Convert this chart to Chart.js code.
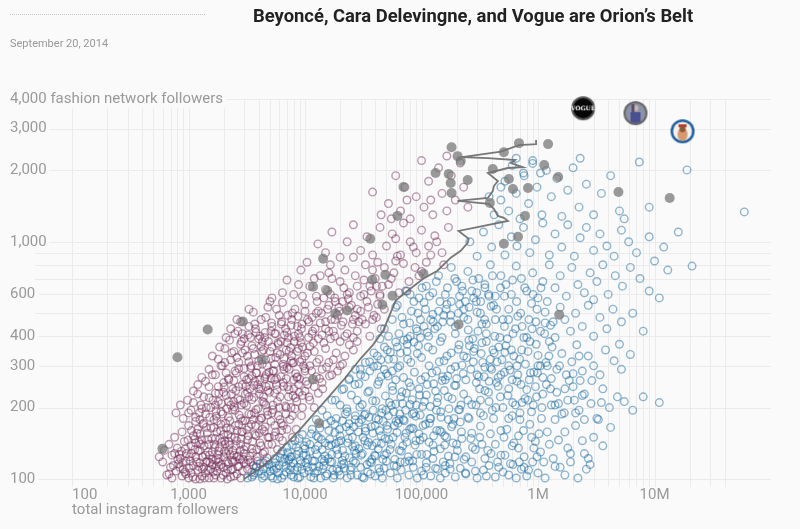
<!DOCTYPE html>
<html>
<head>
<meta charset="utf-8">
<title>Orion's Belt</title>
<script src="https://cdn.jsdelivr.net/npm/chart.js@4.4.1/dist/chart.umd.min.js"></script>
<style>
  body { margin: 0; background: #fafafa; font-family: Roboto, "Noto Sans", sans-serif; }
  #wrap { position: relative; width: 800px; height: 529px; overflow: hidden; }
  canvas { position: absolute; left: 0; top: 0; }
  #dots { position: absolute; left: 10px; top: 14px; width: 195px; border-top: 1px dotted #c4c4c4; }
  #title { position: absolute; left: 253px; top: 5px; font-size: 18.4px; font-weight: bold; color: #222; white-space: nowrap; }
  #date { position: absolute; left: 10px; top: 37px; font-size: 11px; color: #999; }
</style>
</head>
<body>
<div id="wrap">
  <canvas id="chart" width="800" height="529"></canvas>
  <div id="dots"></div>
  <div id="title">Beyoncé, Cara Delevingne, and Vogue are Orion’s Belt</div>
  <div id="date">September 20, 2014</div>
</div>
<script>
// axis labels
const xLabelValues = [100, 1000, 10000, 100000, 1000000, 10000000];
const xLabelText = ['100', '1,000', '10,000', '100,000', '1M', '10M'];
const yLabelValues = [100, 200, 300, 400, 600, 1000, 2000, 3000, 4000];
const yLabelText = ['100', '200', '300', '400', '600', '1,000', '2,000', '3,000', '4,000 fashion network followers'];
const xTitle = 'total instagram followers';

// accounts above the line: [instagram followers, fashion network followers]
const pinkPoints = [
  [600,118],[650,104],[700,112],[720,101],[780,108],[820,116],[880,103],[900,110],[950,119],[1000,101],[1050,106],[1100,114],
  [1150,100],[1200,109],[1250,117],[1300,103],[1350,112],[1400,106],[1450,119],[1500,101],[1550,110],[1600,115],[1700,104],
  [1750,108],[1800,118],[1900,101],[2000,112],[2100,106],[2200,116],[2300,102],[2400,110],[2500,119],[2600,105],[2700,113],
  [2800,101],[2900,108],[3000,117],[3200,110],[3400,118],[3600,114],[3900,119],[1250,100],[1650,101],[2150,100],[950,105],
  [560,124],[620,132],[680,140],[720,126],[760,150],[800,135],[850,122],[880,158],[920,144],[960,128],[1000,168],[1050,138],
  [1100,152],[1150,124],[1200,162],[1250,132],[1300,146],[1350,172],[1400,126],[1450,156],[1500,140],[1600,130],[1650,165],
  [1700,148],[1800,122],[1850,136],[1900,170],[2000,154],[2100,128],[2200,144],[2300,162],[2400,132],[2500,150],[2600,124],
  [2700,170],[2800,140],[2900,158],[3000,128],[3200,146],[3300,166],[3500,134],[3700,154],[3900,124],[4100,142],[4300,162],
  [4500,130],[4800,150],[5200,140],[5600,158],[6000,150],[6500,168],[7000,162],[1150,142],[1750,158],[2350,120],
  [780,190],[850,205],[900,180],[980,215],[1050,195],[1100,235],[1150,182],[1200,250],[1280,205],[1350,222],[1400,188],
  [1500,245],[1550,200],[1650,178],[1700,230],[1800,212],[1900,192],[2000,255],[2100,225],[2200,182],[2300,205],[2400,240],
  [2500,195],[2650,218],[2800,180],[2900,250],[3000,208],[3200,232],[3300,188],[3500,216],[3700,258],[3800,196],[4000,240],
  [4200,180],[4400,222],[4600,205],[4900,248],[5200,190],[5500,230],[5800,212],[6100,178],[6500,255],[6900,200],[7300,238],
  [7800,185],[8300,220],[8800,250],[9500,200],[10000,235],[11000,215],[12000,245],[13000,230],[14000,255],[1250,178],[3600,178],
  [1300,268],[1500,290],[1700,275],[1800,320],[1950,300],[2050,355],[2200,265],[2350,340],[2500,285],[2700,310],[2800,370],
  [3000,270],[3200,330],[3400,295],[3600,355],[3800,280],[4000,315],[4300,380],[4500,265],[4700,300],[5000,345],[5300,285],
  [5600,325],[5900,370],[6200,270],[6500,305],[6900,350],[7300,290],[7700,330],[8100,380],[8500,268],[9000,312],[9500,360],
  [10000,285],[10500,340],[11000,300],[11800,375],[12500,270],[13200,320],[14000,290],[15000,355],[16000,310],[17000,275],
  [18500,340],[20000,300],[22000,330],[24000,368],[26000,350],[28000,380],[3300,265],[5500,262],[8000,262],[2600,325],
  [4200,362],[7000,375],
  [2100,395],[2300,430],[2500,410],[2800,460],[3000,390],[3300,440],[3600,505],[3800,415],[4200,470],[4500,395],[4800,530],
  [5200,440],[5600,410],[6000,490],[6400,555],[6800,430],[7200,395],[7700,470],[8200,520],[8800,410],[9400,450],[10000,545],
  [10700,395],[11500,480],[12200,430],[13000,510],[14000,405],[15000,460],[16000,540],[17500,420],[19000,490],[20500,445],
  [22000,400],[24000,530],[26000,470],[28000,420],[30000,510],[33000,450],[36000,400],[39000,490],[42000,545],[16500,390],
  [9000,395],[5000,560],[3400,395],
  [5200,580],[6400,610],[7000,690],[8000,600],[9200,760],[10400,820],[11000,650],[12500,590],[13500,720],[15000,630],
  [16500,800],[18000,580],[20000,680],[22000,760],[24000,610],[27000,720],[30000,590],[33000,800],[36000,650],[40000,700],
  [44000,600],[48000,780],[52000,660],[58000,740],[64000,610],[70000,810],[78000,680],[88000,780],[95000,720],[110000,820],
  [17000,700],[28000,650],[42000,820],[60000,830],
  [12900,980],[15000,900],[17000,1100],[20000,860],[23000,1000],[26000,1180],[30000,920],[34000,1050],[38000,880],
  [44000,1150],[50000,960],[56000,1080],[62000,870],[70000,1200],[80000,1000],[90000,900],[100000,1120],[115000,960],
  [130000,1060],[150000,900],[170000,1150],[60000,1030],
  [38000,1620],[45000,1300],[52000,1450],[60000,1900],[66000,1350],[72000,1700],[80000,1250],[90000,1550],[100000,2200],
  [105000,1400],[115000,1800],[125000,1300],[140000,2050],[150000,1600],[165000,1350],[180000,1900],[195000,1500],
  [215000,2150],[230000,1700],[250000,1400],[165000,2300],[120000,1500],[75000,1500],[55000,1250],
  [740,114],[810,121],[870,131],[930,107],[990,146],[1040,119],[1090,102],[1130,133],[1180,156],[1220,113],[1270,140],
  [1320,124],[1370,101],[1420,165],[1470,130],[1520,117],[1580,148],[1630,107],[1680,136],[1730,184],[1780,126],[1830,113],
  [1880,160],[1930,143],[1980,104],[2030,131],[2080,172],[2130,118],[2180,154],[2250,139],[2320,109],[2380,196],[2450,126],
  [2520,168],[2580,145],[2650,113],[2720,186],[2780,132],[2850,158],[2930,121],[3050,176],[3100,137],[3150,204],[3250,152],
  [3350,125],[3450,187],[3550,144],[3650,221],[3750,168],[3850,133],[3950,198],[4050,156],[4150,240],[4250,181],[4350,128],
  [4450,210],[4550,166],[4650,276],[4750,193],[4850,140],[4950,232],[5100,175],[5300,205],[5450,152],[5700,265],[5900,185],
  [6100,222],[6300,160],[6600,290],[6800,203],[7100,245],[7400,178],[7600,315],[7900,225],[8200,198],[8600,270],[8900,232],
  [9300,185],[9700,300],[10200,258],[10800,222],[11400,285],[12000,200],[12600,310],[13300,265],[14200,240],[15300,296],
  [16200,272],[17500,318],[19000,285],[21000,305],
  [1000,190],[1100,210],[1200,228],[1300,198],[1400,258],[1500,220],[1600,275],[1700,205],[1800,245],[1900,300],[2000,232],
  [2100,280],[2200,212],[2300,318],[2450,260],[2550,236],[2700,292],[2900,340],[3100,246],[3300,312],[3500,272],[3700,335],
  [3900,300],[4100,262],[4400,350],[4600,318],[4900,282],[5200,360],[5500,305],[5800,340],[6200,380],[6600,322],[7000,295],
  [7500,358],[8000,310],[8600,345],[9200,375],[10000,330],[11000,362],[12000,345],[13000,390],[14500,375],[16000,420],
  [18000,400],[20000,380],[23000,410],[26000,395],
  [680,105],[760,128],[840,112],[1020,124],[1230,143],[1470,109],[1720,120],[2040,145],[2270,127],[2470,103],[2760,121],
  [3120,116],[3480,107],[3820,112],[4400,117],[4700,123],[5800,133],[6400,145],[7800,150],[8400,162],
  [2600,470],[2900,410],[3300,520],[3700,450],[4100,400],[4600,480],[5100,420],[5700,520],[6300,460],[7000,415],[7800,500],
  [8600,440],[9500,590],[10500,470],[11500,410],[12700,560],[13800,500],[15000,430],[16500,600],[18000,470],[19500,530],
  [21500,640],[23500,575],[25500,450],[28000,520],[31000,470],[34000,560],[37000,620],[41000,480],[45000,430],[8800,660],
  [12000,700],[16000,740],[21000,560],[26000,860],[32000,690],[38000,760],[46000,650],[55000,700],[66000,880],[75000,620],
  [85000,950],[100000,750],[120000,880],[135000,1000],[155000,800],
  [830,127],[890,117],[940,134],[1010,111],[1060,128],[1120,147],[1170,118],[1210,131],[1260,155],[1310,110],[1360,138],
  [1410,118],[1460,147],[1510,126],[1560,164],[1610,121],[1660,140],[1710,113],[1760,175],[1810,131],[1860,148],[1910,115],
  [1960,188],[2010,124],[2060,140],[2110,164],[2160,110],[2210,132],[2260,176],[2330,150],[2400,118],[2470,201],[2540,138],
  [2610,160],[2690,125],[2760,215],[2830,148],[2910,176],[2990,133],[3070,228],[3160,161],[3260,120],[3360,240],[3460,170],
  [3560,129],[3680,190],[3800,152],[3920,250],[4050,177],[4180,138],[4320,212],[4470,159],[4620,245],[4780,186],[4930,150],
  [5100,266],[5300,196],[5500,168],[5750,238],[6000,200],[6250,172],[6550,246],[6850,188],[7200,222],[7600,200],[8000,240],
  [8500,212],[9000,264],[9500,225],[10500,250],
  [1060,160],[1150,175],[1240,190],[1330,170],[1420,200],[1520,182],[1620,215],[1720,194],[1820,230],[1920,208],[2020,244],
  [2120,198],[2220,262],[2330,228],[2440,212],[2570,280],[2700,245],[2850,205],[3000,292],[3150,262],[3300,222],[3450,300],
  [3650,248],[3850,280],[4050,228],[4300,305],[4550,270],[4800,236],[5100,322],[5400,286],[5700,250],[6100,335],[6500,298],
  [6900,265],[7300,345],[7800,308],[8300,278],[8800,355],[9400,318],[10000,292],
  [1600,330],[1850,360],[2050,310],[2250,385],[2450,345],[2650,420],[2850,380],[3050,350],[3250,405],[3500,365],[3750,430],
  [4000,390],[4250,345],[4550,415],[4850,380],[5150,455],[5500,410],[5850,375],[6250,450],[6650,405],[7100,490],[7600,445],
  [8100,400],[8700,485],[9300,430],[10000,510],[10800,460],[11600,420],[12500,500],[13500,455],[14500,580],[15600,520],
  [16800,470],[18200,560],[19700,510],[21200,460],[23000,600],[25000,540],[27000,490],[29000,460],[32000,600],[35000,530],
  [38000,470],[41000,650],[44000,590],[48000,520]
];

// accounts below the line
const bluePoints = [
  [3200,101],[3600,104],[4000,108],[4300,101],[4700,112],[5100,103],[5500,117],[5900,106],[6300,101],[6800,113],[7200,119],
  [7600,104],[8100,109],[8700,101],[9200,116],[9800,106],[10500,112],[11200,102],[12000,119],[12800,108],[13600,101],
  [14500,114],[15500,105],[16500,118],[17500,101],[18800,110],[20000,104],[21500,116],[23000,101],[24500,109],[26000,119],
  [28000,104],[30000,112],[32000,101],[34500,107],[37000,117],[40000,103],[43000,111],[46000,101],[50000,119],[54000,106],
  [58000,114],[62000,101],[67000,109],[72000,118],[78000,104],[85000,112],[92000,101],[100000,108],[110000,117],[120000,103],
  [132000,111],[145000,101],[160000,106],[175000,116],[195000,102],[215000,111],[240000,105],[270000,118],[300000,101],
  [340000,109],[380000,114],[430000,102],[500000,107],[580000,116],[650000,101],[720000,110],[800000,103],[900000,118],
  [1000000,106],[1150000,101],[1400000,113],[1700000,104],[2200000,101],[2600000,110],[1900000,118],
  [5500,122],[6200,128],[7000,136],[7500,124],[8200,145],[8800,131],[9500,154],[10200,126],[11000,140],[11500,162],
  [12300,133],[13000,150],[14000,121],[15000,170],[16000,138],[17000,127],[18000,157],[19500,144],[21000,132],[22500,166],
  [24000,123],[25500,150],[27000,138],[29000,173],[31000,128],[33000,159],[35000,143],[37500,121],[40000,168],[42500,134],
  [45000,152],[48000,126],[51000,162],[55000,140],[59000,121],[63000,172],[67000,131],[72000,150],[77000,124],[82000,164],
  [88000,139],[95000,155],[100000,127],[108000,170],[116000,143],[125000,122],[135000,160],[145000,134],[158000,152],
  [170000,125],[185000,170],[200000,140],[220000,158],[240000,124],[265000,148],[290000,133],[320000,167],[350000,122],
  [390000,155],[430000,140],[480000,126],[540000,162],[600000,138],[680000,152],[760000,124],[850000,170],[950000,144],
  [1050000,130],[1200000,158],[1350000,122],[1500000,146],[1800000,135],[2100000,168],[2500000,128],[3000000,150],
  [3600000,138],[4200000,165],[2700000,122],
  [12500,178],[14000,195],[15500,185],[17000,215],[18500,180],[20000,205],[21500,240],[23000,192],[25000,226],[27000,178],
  [29000,252],[31000,206],[33000,188],[35500,235],[38000,214],[40500,180],[43000,258],[46000,198],[49000,224],[52000,185],
  [56000,246],[60000,207],[64000,178],[68000,233],[73000,195],[78000,255],[83000,216],[89000,184],[95000,240],[102000,202],
  [110000,226],[118000,180],[127000,252],[136000,210],[146000,192],[157000,236],[170000,178],[183000,218],[197000,248],
  [212000,196],[230000,228],[250000,182],[270000,206],[295000,255],[320000,190],[350000,236],[380000,212],[415000,180],
  [455000,246],[500000,200],[550000,225],[600000,185],[660000,258],[730000,210],[800000,238],[880000,192],[970000,222],
  [1070000,180],[1180000,250],[1300000,205],[1450000,232],[1600000,188],[1800000,215],[2000000,245],[2250000,195],
  [2500000,228],[2850000,208],[3200000,180],[3600000,240],[4100000,200],[4800000,222],[5500000,212],[8000000,222],
  [11000000,210],[6500000,195],[2300000,260],[700000,178],[150000,260],[60000,262],
  [24000,265],[27000,290],[30000,275],[33000,310],[36000,285],[39000,340],[42000,300],[45000,270],[48000,360],[52000,320],
  [56000,285],[60000,378],[65000,300],[70000,268],[75000,345],[81000,310],[87000,282],[94000,365],[100000,325],[108000,270],
  [116000,300],[125000,350],[135000,285],[145000,380],[156000,315],[168000,272],[180000,340],[195000,298],[210000,368],
  [228000,278],[245000,325],[265000,290],[285000,355],[310000,270],[335000,310],[360000,380],[390000,295],[420000,340],
  [455000,268],[490000,318],[530000,365],[575000,288],[620000,330],[670000,275],[725000,350],[780000,305],[850000,380],
  [920000,282],[1000000,332],[1100000,268],[1200000,300],[1320000,360],[1450000,290],[1600000,338],[1750000,275],
  [1950000,312],[2150000,368],[2400000,285],[2700000,330],[3000000,300],[3400000,275],[3800000,350],[4500000,315],
  [5200000,290],[6200000,335],[5000000,370],[1250000,380],[160000,262],[50000,278],
  [48000,430],[52000,400],[56000,470],[60000,530],[64000,410],[70000,450],[76000,390],[82000,510],[90000,430],[98000,470],
  [105000,555],[115000,400],[125000,495],[137000,440],[150000,395],[163000,520],[178000,460],[195000,410],[212000,545],
  [230000,480],[252000,425],[275000,390],[300000,505],[330000,450],[360000,410],[395000,535],[430000,470],[470000,395],
  [515000,440],[560000,520],[610000,410],[670000,485],[730000,440],[800000,395],[880000,550],[960000,460],[1050000,420],
  [1150000,505],[1280000,445],[1400000,395],[1550000,530],[1700000,470],[1900000,420],[2100000,500],[2400000,440],
  [2700000,540],[3000000,400],[3400000,480],[3900000,430],[4400000,520],[5200000,460],[6500000,500],[8000000,420],
  [44000,390],[1200000,560],
  [80000,600],[95000,580],[110000,650],[125000,610],[140000,720],[160000,600],[180000,780],[200000,680],[225000,620],
  [250000,750],[280000,580],[310000,700],[350000,640],[390000,800],[430000,590],[480000,720],[530000,660],[590000,600],
  [650000,790],[720000,700],[800000,620],[900000,740],[1000000,580],[1100000,680],[1250000,800],[1400000,640],[1550000,720],
  [1750000,590],[1950000,780],[2200000,660],[2500000,610],[2800000,740],[3200000,680],[3600000,800],[4000000,600],
  [4600000,720],[5300000,650],[6200000,780],[7500000,700],[9000000,620],[13000000,760],[21000000,790],[11000000,580],
  [3000000,570],
  [260000,1000],[300000,870],[340000,1100],[400000,950],[460000,1180],[520000,880],[590000,1050],[660000,960],[750000,1150],
  [850000,900],[950000,1020],[1100000,1200],[1250000,880],[1400000,1080],[1600000,950],[1800000,1180],[2050000,870],
  [2300000,1040],[2600000,1150],[3000000,920],[3400000,1080],[3900000,960],[4500000,870],[5200000,1120],[6000000,1000],
  [7000000,900],[9000000,1050],[12000000,950],[16000000,1100],[10000000,830],
  [420000,1300],[480000,1500],[520000,1800],[560000,1350],[600000,2100],[650000,1600],[700000,1250],[760000,1900],
  [830000,1450],[900000,2200],[980000,1700],[1080000,1300],[1180000,2000],[1300000,1550],[1450000,1850],[1600000,1280],
  [1800000,1650],[2000000,2050],[2250000,1400],[2600000,1750],[3000000,1300],[3500000,1600],[4200000,1900],[5000000,1350],
  [7400000,2170],[5500000,1250],[19000000,2009],[59000000,1337],[9000000,1400],[2300000,2250],
  [650000,2250],[900000,2140],[750000,1950],[1050000,1950],[480000,1700],[380000,1550],
  [3500,102],[3800,113],[4200,105],[4600,119],[5000,108],[5300,101],[5700,111],[6100,123],[6600,104],[7100,129],[7400,109],
  [7900,117],[8400,136],[9000,102],[9600,126],[10300,143],[10800,108],[11600,119],[12500,152],[13200,113],[14000,133],
  [15000,103],[16000,160],[17000,118],[18300,141],[19500,108],[21000,176],[22000,125],[23500,148],[25000,112],[27000,185],
  [29000,134],[31000,102],[33000,164],[36000,118],[38500,195],[41000,142],[44000,107],[47000,175],[50000,128],[53000,210],
  [57000,150],[61000,113],[65000,188],[69000,138],[74000,230],[79000,162],[84000,119],[90000,205],[97000,146],[104000,104],
  [112000,250],[120000,180],[128000,131],[138000,220],[148000,158],[160000,114],[172000,198],[186000,142],[200000,265],
  [215000,174],[232000,121],[250000,215],[270000,156],[290000,108],[315000,240],[340000,185],[370000,132],[400000,290],
  [435000,200],
  [6500,118],[7700,124],[8600,112],[9900,138],[11100,131],[12100,106],[13800,147],[14800,125],[16800,139],[18000,170],
  [19900,152],[20600,115],[22800,198],[24200,160],[26500,132],[28000,215],[30500,178],[32500,145],[34500,232],[37000,166],
  [39500,126],[42000,250],[45500,190],[48500,148],[51500,272],[55000,204],[58500,168],[62500,295],[66500,222],[71000,176],
  [76000,320],[80500,245],[86000,190],[92000,338],[99000,262],[106000,212],[114000,360],[123000,280],[132000,235],
  [142000,312],[152000,270],[165000,330],[178000,290],[192000,248],[207000,352],[223000,302],[240000,262],[258000,365],
  [278000,312],[300000,275],[325000,338],[350000,296],[380000,258],[410000,350],[445000,312],[480000,275],[520000,342],
  [560000,300],[600000,262],
  [18200,215],[20800,238],[23800,262],[26800,250],[29800,290],[32800,270],[35800,312],[38800,298],[41800,330],[44800,318],
  [47800,290],[50800,350],[54000,342],[57800,320],[62000,360],[66000,340],[70500,385],[75500,370],[80000,400],[86000,378],
  [92000,420],[98000,395],[105000,440],[112000,415],[120000,470],[130000,430],[140000,510],[152000,460],[165000,545],
  [178000,490],[195000,440],[212000,590],[230000,520],[250000,470],[270000,620],[295000,560],[320000,500],[350000,660],
  [380000,590],[415000,540],
  [450000,118],[520000,126],[560000,104],[620000,142],[690000,118],[750000,160],[830000,109],[920000,135],[1020000,155],
  [1120000,118],[1250000,140],[1400000,178],[1550000,112],[1700000,158],[1900000,128],[2100000,190],[2400000,145],
  [2800000,115],[3300000,178],[700000,190],[820000,215],[950000,245],[1100000,228],[1300000,265],[1500000,208],
  [1700000,240],[2000000,278],[2400000,225],[2900000,260],[3500000,210],[480000,160],[560000,180],[640000,205],
  [860000,280],[1000000,300],
  [3700,106],[4100,116],[4500,103],[4900,115],[5400,109],[5800,100],[6000,114],[6400,131],[6900,107],[7300,121],[7800,139],
  [8000,102],[8500,127],[8900,148],[9400,110],[10000,134],[10600,121],[11300,155],[11900,101],[12600,127],[13400,164],
  [14200,110],[14900,142],[15800,122],[16700,176],[17800,104],[18700,133],[19800,162],[20900,120],[22200,188],[23200,142],
  [24800,104],[26200,166],[27500,128],[29500,201],[31500,150],[34000,115],[35500,182],[37800,138],[40500,213],[43500,160],
  [46500,121],[49500,195],[52500,147],[56500,236],[60500,175],[64500,132],[68500,208],[73500,156],[78500,119],[83500,188],
  [89500,145],[96000,226],[103000,168],[111000,127],[119000,202],[127000,152],[137000,110],[147000,182],[158000,139],
  [169000,222],[181000,166],[194000,124],[208000,196],[222000,148],[238000,106],[255000,180],[274000,136],[294000,205],
  [316000,150],
  [4400,110],[5200,113],[6700,122],[7600,113],[9100,120],[10100,117],[11700,112],[12900,138],[14600,119],[16300,147],
  [17300,109],[19100,127],[20300,145],[21800,111],[23800,171],[25600,137],[27200,117],[28700,158],[30300,126],[32300,186],
  [34200,139],[36500,105],[38200,156],[40200,125],[42700,178],[45200,141],[47700,111],[50300,168],[53700,133],[57700,192],
  [61500,157],[65700,118],[69700,178],[74700,143],[79700,206],[85000,163],[91000,127],[97500,186],[103500,150],[109500,112],
  [117000,172],[125500,139],[134000,195],[143500,160],[153500,118],[164000,150],[176000,110],[190000,180],[203000,132],
  [218000,205],
  [62000,540],[68000,480],[73000,620],[79000,455],[86000,560],[93000,500],[101000,640],[108000,520],[117000,590],
  [126000,460],[134000,680],[144000,560],[155000,490],[167000,640],[180000,560],[193000,700],[207000,500],[222000,650],
  [238000,560],[256000,530],[276000,690],[298000,610],[322000,560],[348000,470],[376000,600],[406000,720],[440000,520],
  [476000,640],[515000,590],[558000,470],[605000,690],[655000,560],[710000,500],[770000,640],[835000,470],[905000,600],
  [980000,520],[1060000,640],[1150000,455],
  [230000,330],[255000,385],[280000,345],[305000,420],[330000,375],[360000,450],[390000,320],[425000,400],[460000,360],
  [500000,470],[545000,390],[590000,350],[640000,430],[695000,320],[755000,395],[820000,345],[890000,430],[965000,370],
  [1050000,300],[1140000,410],[1240000,330],[1350000,460],
  [320000,215],[345000,270],[375000,232],[405000,195],[440000,255],[475000,222],[515000,282],[560000,240],[605000,210],
  [660000,300],[715000,250],[775000,218],[840000,262],[910000,205],[990000,280],[1080000,200],[1170000,310],[1280000,240],
  [1400000,205],[1530000,300],[1680000,190],[1850000,260],[2050000,215],[2250000,330],[2500000,178],
  [330000,140],[360000,103],[395000,128],[460000,112],[510000,150],[610000,115],[680000,135],[760000,112],[880000,150],
  [980000,124]
];

// highlighted accounts
const greyPoints = [
  [597,134],[803,326],[1459,427],[2924,461],[4260,319],[11700,263],[13200,172],[11700,647],[15500,622],[18200,498],
  [14300,849],[23000,513],[46100,543],[56300,593],[37800,692],[48900,726],[104000,734],[36300,1030],[62100,1286],
  [70000,1702],[132000,1950],[171000,1931],[178000,1770],[249000,1823],[181000,1607],[181000,2506],[204000,2297],
  [217000,2190],[509000,2388],[686000,2606],[1220000,2582],[1130000,2109],[1490000,1877],[562000,1841],[609000,1671],
  [820000,1687],[386000,1459],[773000,1286],[673000,1050],[509000,981],[208000,448],[1520000,493],[4900000,1622],
  [13500000,1530],[409000,2028]
];

// dividing line
const linePoints = [
  [3000,100],[3900,109],[5000,120],[6700,139],[9000,161],[12200,191],[16400,225],[22000,266],[30000,322],[38000,366],
  [47000,423],[53000,488],[60000,565],[76000,622],[104000,700],[137000,755],[178000,857],[217000,916],[249000,991],
  [254000,1030],[208000,1112],[281000,1146],[551000,1225],[509000,1262],[452000,1286],[418000,1377],[377000,1445],
  [204000,1487],[371000,1530],[409000,1637],[418000,1718],[452000,1803],[371000,1950],[551000,2047],[740000,2066],
  [585000,2148],[637000,2213],[371000,2255],[223000,2275],[480000,2400],[686000,2558],[962000,2582],[962000,2685]
];

const celebNames = ['Vogue', 'Cara Delevingne', 'Beyoncé'];
const celebInstagram = [2440000, 6860000, 17400000];
const celebFashion = [3655, 3486, 2924];

const toXY = arr => arr.map(p => ({ x: p[0], y: p[1] }));

// grid lines at 1..9 of each decade
const xGrid = [];
for (let d = 100; d <= 10000000; d *= 10) {
  for (let m = 1; m <= 9; m++) {
    if (d * m <= 40000000) xGrid.push(d * m);
  }
}
const yGrid = [100, 200, 300, 400, 500, 600, 700, 800, 900, 1000, 2000, 3000, 4000];

function makeIcon(draw) {
  const c = document.createElement('canvas');
  c.width = 28;
  c.height = 28;
  draw(c.getContext('2d'));
  return c;
}

const vogueIcon = makeIcon(g => {
  g.beginPath(); g.arc(14, 14, 12, 0, Math.PI * 2); g.fillStyle = '#555'; g.fill();
  g.beginPath(); g.arc(14, 14, 10, 0, Math.PI * 2); g.fillStyle = '#060606'; g.fill();
  g.fillStyle = '#fff';
  g.font = 'bold 6px "DejaVu Serif", serif';
  g.textAlign = 'center';
  g.textBaseline = 'middle';
  g.fillText('VOGUE', 14, 14.5);
});

const caraIcon = makeIcon(g => {
  g.beginPath(); g.arc(14, 14, 12, 0, Math.PI * 2); g.fillStyle = '#666'; g.fill();
  g.save();
  g.beginPath(); g.arc(14, 14, 10, 0, Math.PI * 2); g.clip();
  g.fillStyle = '#8a93a8'; g.fillRect(0, 0, 28, 28);
  g.fillStyle = '#4a4f92'; g.fillRect(9, 13, 10, 14);
  g.fillStyle = '#c9b6a8'; g.beginPath(); g.arc(14, 9, 3, 0, Math.PI * 2); g.fill();
  g.fillStyle = '#5a4f70'; g.fillRect(10, 5, 3, 8);
  g.restore();
});

const beyonceIcon = makeIcon(g => {
  g.beginPath(); g.arc(14, 14, 12, 0, Math.PI * 2); g.fillStyle = '#1d5f9f'; g.fill();
  g.save();
  g.beginPath(); g.arc(14, 14, 9.5, 0, Math.PI * 2); g.clip();
  g.fillStyle = '#f4f0ec'; g.fillRect(0, 0, 28, 28);
  g.fillStyle = '#d79a70'; g.beginPath(); g.ellipse(14, 17, 5, 7, 0, 0, Math.PI * 2); g.fill();
  g.fillStyle = '#c0392b'; g.fillRect(10, 7, 8, 3);
  g.fillStyle = '#8a5a3a'; g.beginPath(); g.arc(14, 12, 3, 0, Math.PI * 2); g.fill();
  g.restore();
});

// grid and tick labels drawn from the scales
const axisPainter = {
  id: 'axisPainter',
  beforeDatasetsDraw(chart) {
    const { ctx, chartArea, scales } = chart;
    const x = scales.x, y = scales.y;
    const top = y.getPixelForValue(4000);
    const bottom = y.getPixelForValue(100);
    ctx.save();
    ctx.strokeStyle = '#ebebeb';
    ctx.lineWidth = 1;
    xGrid.forEach(v => {
      const px = Math.round(x.getPixelForValue(v)) + 0.5;
      ctx.beginPath(); ctx.moveTo(px, top); ctx.lineTo(px, bottom + 8); ctx.stroke();
    });
    yGrid.forEach(v => {
      const py = Math.round(y.getPixelForValue(v)) + 0.5;
      ctx.beginPath(); ctx.moveTo(chartArea.left - 2, py); ctx.lineTo(chartArea.right, py); ctx.stroke();
    });

    ctx.font = '15px Roboto, "Noto Sans", sans-serif';
    ctx.textBaseline = 'middle';
    ctx.textAlign = 'left';
    yLabelValues.forEach((v, i) => {
      const py = y.getPixelForValue(v);
      const w = ctx.measureText(yLabelText[i]).width;
      ctx.fillStyle = '#fafafa';
      ctx.fillRect(8, py - 9, w + 5, 18);
      ctx.fillStyle = '#9a9a9a';
      ctx.fillText(yLabelText[i], 10, py);
    });

    xLabelValues.forEach((v, i) => {
      const px = x.getPixelForValue(v);
      ctx.textAlign = i === 0 ? 'left' : 'center';
      ctx.fillStyle = '#9a9a9a';
      ctx.fillText(xLabelText[i], px, bottom + 16);
    });
    ctx.textAlign = 'left';
    ctx.fillText(xTitle, x.getPixelForValue(100), bottom + 31);
    ctx.restore();
  }
};

const ctx = document.getElementById('chart').getContext('2d');
new Chart(ctx, {
  type: 'scatter',
  data: {
    datasets: [
      {
        label: 'celebs',
        data: celebInstagram.map((v, i) => ({ x: v, y: celebFashion[i] })),
        pointStyle: [vogueIcon, caraIcon, beyonceIcon],
        order: 0,
        clip: false
      },
      {
        label: 'highlighted',
        data: toXY(greyPoints),
        pointRadius: 5,
        backgroundColor: 'rgba(115,115,115,0.72)',
        borderWidth: 0,
        order: 1,
        clip: false
      },
      {
        label: 'line',
        data: toXY(linePoints),
        showLine: true,
        pointRadius: 0,
        borderColor: 'rgba(105,105,105,0.9)',
        borderWidth: 1.8,
        order: 2,
        clip: false
      },
      {
        label: 'below',
        data: toXY(bluePoints),
        pointRadius: 3.8,
        borderWidth: 1.4,
        borderColor: 'rgba(22,104,160,0.47)',
        backgroundColor: 'rgba(0,0,0,0)',
        order: 3,
        clip: false
      },
      {
        label: 'above',
        data: toXY(pinkPoints),
        pointRadius: 3.8,
        borderWidth: 1.4,
        borderColor: 'rgba(112,38,82,0.46)',
        backgroundColor: 'rgba(0,0,0,0)',
        order: 4,
        clip: false
      }
    ]
  },
  options: {
    responsive: false,
    animation: false,
    events: [],
    layout: { padding: { left: 37, right: 29, top: 99, bottom: 50 } },
    scales: {
      x: { type: 'logarithmic', min: 50, max: 100000000, display: false },
      y: { type: 'logarithmic', min: 100, max: 4000, display: false }
    },
    plugins: {
      legend: { display: false },
      tooltip: { enabled: false }
    }
  },
  plugins: [axisPainter]
});
</script>
</body>
</html>
